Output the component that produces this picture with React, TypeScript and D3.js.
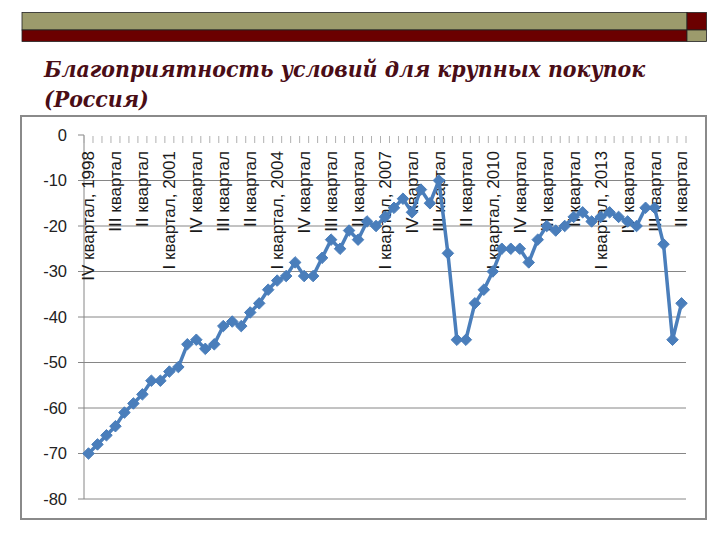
import { useEffect, useRef } from 'react';
import * as d3 from 'd3';

// quarterly survey index, IV 1998 .. II 2015
const quarters: string[] = [];
for (let y = 1998, q = 4; y < 2015 || q <= 2; q++) {
  if (q > 4) { q = 1; y++; }
  quarters.push(`${y}-Q${q}`);
  if (y === 2015 && q === 2) break;
}

const values = [
  -70, -68, -66, -64, -61, -59, -57, -54, -54, -52,
  -51, -46, -45, -47, -46, -42, -41, -42, -39, -37,
  -34, -32, -31, -28, -31, -31, -27, -23, -25, -21,
  -23, -19, -20, -18, -16, -14, -17, -12, -15, -10,
  -26, -45, -45, -37, -34, -30, -25, -25, -25, -28,
  -23, -20, -21, -20, -18, -17, -19, -18, -17, -18,
  -19, -20, -16, -16, -24, -45, -37,
];

// every third category carries a label
const tickLabels = [
  'IV квартал, 1998', 'III квартал', 'II квартал', 'I квартал, 2001',
  'IV квартал', 'III квартал', 'II квартал', 'I квартал, 2004',
  'IV квартал', 'III квартал', 'II квартал', 'I квартал, 2007',
  'IV квартал', 'III квартал', 'II квартал', 'I квартал, 2010',
  'IV квартал', 'III квартал', 'II квартал', 'I квартал, 2013',
  'IV квартал', 'III квартал', 'II квартал',
];

const yTicks = [0, -10, -20, -30, -40, -50, -60, -70, -80];

const title = ['Благоприятность условий для крупных покупок', '(Россия)'];

const BLUE = '#4a7ebb';
const OLIVE = '#9c9b6c';
const MAROON = '#6b0000';
const SANS = 'Liberation Sans, Arial, sans-serif';

export default function App() {
  const svgRef = useRef<SVGSVGElement>(null);

  useEffect(() => {
    if (!svgRef.current) return;
    const svg = d3.select(svgRef.current);
    svg.selectAll('*').remove();

    // slide header bars
    const head = svg.append('g').attr('stroke', '#222').attr('stroke-width', 0.8);
    head.append('rect').attr('x', 22).attr('y', 12.5).attr('width', 665).attr('height', 17.5).attr('fill', OLIVE);
    head.append('rect').attr('x', 22).attr('y', 30).attr('width', 665).attr('height', 11.5).attr('fill', MAROON);
    head.append('rect').attr('x', 687).attr('y', 12.5).attr('width', 19.5).attr('height', 17.5).attr('fill', MAROON);
    head.append('rect').attr('x', 687).attr('y', 30).attr('width', 19.5).attr('height', 11.5).attr('fill', OLIVE);

    svg.append('g')
      .selectAll('text')
      .data(title)
      .join('text')
      .attr('x', 44)
      .attr('y', (_, i) => 76.5 + i * 30.5)
      .attr('fill', '#4a0d16')
      .attr('font-family', "'DejaVu Serif Condensed', 'DejaVu Serif', serif")
      .attr('font-stretch', 'condensed')
      .attr('font-style', 'italic')
      .attr('font-weight', 'bold')
      .attr('font-size', 22.8)
      .text((d) => d);

    // chart frame
    svg.append('rect')
      .attr('x', 21).attr('y', 116)
      .attr('width', 685).attr('height', 403)
      .attr('fill', '#fff')
      .attr('stroke', '#8a8a8a')
      .attr('stroke-width', 2);

    const x = d3.scaleBand<string>().domain(quarters).range([84, 686]);
    const y = d3.scaleLinear().domain([-80, 0]).range([499, 135]);
    const cx = (i: number) => (x(quarters[i]) ?? 0) + x.bandwidth() / 2;

    // gridlines
    svg.append('g')
      .selectAll('line')
      .data(yTicks.filter((t) => t !== 0))
      .join('line')
      .attr('x1', 84).attr('x2', 686)
      .attr('y1', (d) => y(d)).attr('y2', (d) => y(d))
      .attr('stroke', '#868686')
      .attr('stroke-width', 1);

    // value axis
    svg.append('line')
      .attr('x1', 84).attr('x2', 84)
      .attr('y1', y(0)).attr('y2', y(-80))
      .attr('stroke', '#868686');
    svg.append('g')
      .selectAll('line')
      .data(yTicks)
      .join('line')
      .attr('x1', 78).attr('x2', 84)
      .attr('y1', (d) => y(d)).attr('y2', (d) => y(d))
      .attr('stroke', '#868686');
    svg.append('g')
      .selectAll('text')
      .data(yTicks)
      .join('text')
      .attr('x', 67)
      .attr('y', (d) => y(d))
      .attr('dy', '0.35em')
      .attr('text-anchor', 'end')
      .attr('fill', '#222')
      .attr('font-family', SANS)
      .attr('font-size', 16.5)
      .text((d) => d);

    // category axis sits at 0, ticks hang down
    const bounds = d3.range(quarters.length + 1).map((i) => 84 + i * x.step());
    svg.append('g')
      .selectAll('line')
      .data(bounds)
      .join('line')
      .attr('x1', (d) => d).attr('x2', (d) => d)
      .attr('y1', y(0) + 1).attr('y2', y(0) + 8)
      .attr('stroke', '#b0b0b0');

    svg.append('g')
      .selectAll('text')
      .data(tickLabels)
      .join('text')
      .attr('transform', (_, i) => `translate(${cx(i * 3)},151) rotate(-90)`)
      .attr('dy', '0.35em')
      .attr('text-anchor', 'end')
      .attr('fill', '#1a1a1a')
      .attr('font-family', SANS)
      .attr('font-size', 17)
      .text((d) => d);

    // series
    const line = d3.line<number>()
      .x((_, i) => cx(i))
      .y((d) => y(d));

    svg.append('path')
      .datum(values)
      .attr('fill', 'none')
      .attr('stroke', BLUE)
      .attr('stroke-width', 3.5)
      .attr('stroke-linejoin', 'round')
      .attr('d', line);

    const diamond = d3.symbol().type(d3.symbolDiamond2).size(85);
    svg.append('g')
      .selectAll('path')
      .data(values)
      .join('path')
      .attr('transform', (d, i) => `translate(${cx(i)},${y(d)})`)
      .attr('d', diamond)
      .attr('fill', BLUE)
      .attr('stroke', BLUE)
      .attr('stroke-width', 1);
  }, []);

  return (
    <svg
      ref={svgRef}
      width={720}
      height={540}
      style={{ position: 'absolute', left: 0, top: 0, background: '#fff' }}
    />
  );
}
